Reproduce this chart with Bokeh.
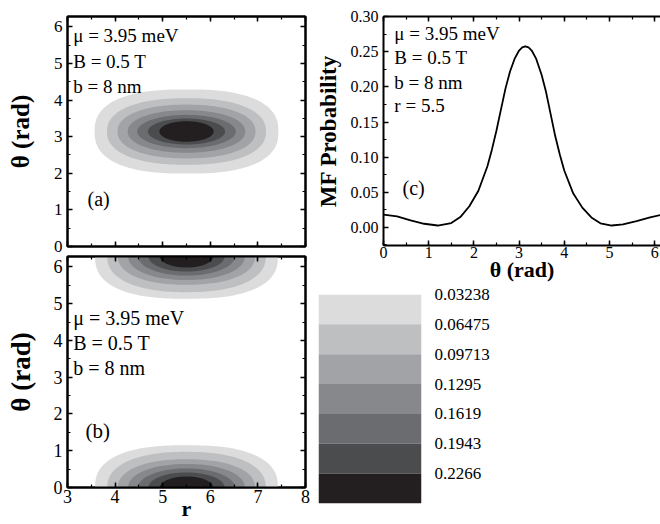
import numpy as np
from bokeh.plotting import figure
from bokeh.models import (Range1d, LinearAxis, Label, FixedTicker, SingleIntervalTicker,
                          NumeralTickFormatter, CustomJSTickFormatter)
from bokeh.layouts import row, column
from bokeh.embed import file_html
from bokeh.resources import INLINE

# ---------------- data ----------------
levels = [0.03238, 0.06475, 0.09713, 0.1295, 0.1619, 0.1943, 0.2266]
level_labels = ["0.03238", "0.06475", "0.09713", "0.1295", "0.1619", "0.1943", "0.2266"]
level_max = 0.2590
band_colors = ["#dcdcdd", "#bebfc1", "#a2a3a6", "#87888b", "#6b6c6f", "#4b4c4e", "#231f20"]

# panel (a): probability blob centred at r = 5.5, theta = pi
a_center_r = 5.5
a_center_theta = 3.1416
a_half_r = [1.93, 1.67, 1.45, 1.235, 1.035, 0.81, 0.57]
a_half_theta = [1.15, 0.91, 0.735, 0.58, 0.455, 0.355, 0.28]

# panel (b): blob centred at r = 5.5, theta = 0 (and 2 pi)
b_center_r = 5.5
b_center_theta = [0.0, 6.2832]
b_half_r = [1.92, 1.665, 1.44, 1.225, 1.015, 0.80, 0.56]
b_half_theta = [1.15, 0.97, 0.77, 0.64, 0.52, 0.41, 0.30]

# squareness of each contour (2 = ellipse)
contour_power = [2.5, 2.3, 2.2, 2.1, 2.0, 2.0, 2.0]

# panel (c): MF probability along theta at r = 5.5
c_theta = [0.0, 0.3, 0.6, 0.9, 1.2, 1.5, 1.7, 1.9, 2.1, 2.3, 2.4, 2.5, 2.6, 2.7,
           2.8, 2.9, 3.0, 3.07, 3.14, 3.21, 3.28, 3.38, 3.5, 3.6, 3.7, 3.8, 3.9,
           4.0, 4.2, 4.4, 4.6, 4.8, 5.05, 5.3, 5.6, 5.9, 6.13]
c_prob = [0.018, 0.0155, 0.0097, 0.0050, 0.0025, 0.0060, 0.0145, 0.030, 0.052,
          0.087, 0.111, 0.138, 0.168, 0.198, 0.222, 0.240, 0.252, 0.2565, 0.258,
          0.2565, 0.252, 0.240, 0.217, 0.192, 0.161, 0.130, 0.104, 0.081, 0.048,
          0.028, 0.014, 0.0057, 0.0025, 0.0042, 0.0088, 0.0140, 0.0175]

annot = ["\u03bc = 3.95 meV", "B = 0.5 T", "b = 8 nm"]
annot_c = annot + ["r = 5.5"]

FONT = "Liberation Serif"
TWO_PI = 2 * np.pi


def tick_style(ax, label_size, standoff):
    ax.major_tick_in = 5
    ax.major_tick_out = 0
    ax.minor_tick_in = 3
    ax.minor_tick_out = 0
    ax.major_tick_line_width = 1.5
    ax.minor_tick_line_width = 1.2
    ax.major_tick_line_color = "black"
    ax.minor_tick_line_color = "black"
    ax.axis_line_width = 2
    ax.axis_line_color = "black"
    ax.major_label_text_font = FONT
    ax.major_label_text_font_size = label_size
    ax.major_label_text_color = "black"
    ax.major_label_standoff = standoff
    ax.axis_label_text_font = FONT
    ax.axis_label_text_font_style = "bold"
    ax.axis_label_text_color = "black"


def no_labels(ax):
    tick_style(ax, "1px", 0)
    ax.formatter = CustomJSTickFormatter(code="return ''")


def mirror(p, side, ticker):
    ax = LinearAxis(ticker=ticker)
    no_labels(ax)
    p.add_layout(ax, side)


def blob(cx, cy, a, b, n, m=180):
    t = np.linspace(0, 2 * np.pi, m)
    c, s = np.cos(t), np.sin(t)
    xs = cx + a * np.sign(c) * np.abs(c) ** (2.0 / n)
    ys = cy + b * np.sign(s) * np.abs(s) ** (2.0 / n)
    return list(xs), list(ys)


def add_text(p, x, y, text, size):
    p.add_layout(Label(x=x, y=y, text=text, text_font=FONT, text_font_size=size,
                       text_color="black", text_align="left", text_baseline="middle"))


def contour_fig(height, bt, bb):
    p = figure(width=312, height=height, x_range=Range1d(3, 8), y_range=Range1d(0, TWO_PI),
               output_backend="svg", toolbar_location=None, frame_align=False,
               min_border_left=67, min_border_right=7, min_border_top=bt, min_border_bottom=bb)
    p.xgrid.visible = False
    p.ygrid.visible = False
    p.outline_line_color = "black"
    p.outline_line_width = 2
    p.outline_line_alpha = 1
    tx = SingleIntervalTicker(interval=1, num_minor_ticks=2)
    ty = SingleIntervalTicker(interval=1, num_minor_ticks=2)
    p.below[0].ticker = tx
    p.left[0].ticker = ty
    mirror(p, "above", tx)
    mirror(p, "right", ty)
    return p


# ---------------- panel (a) ----------------
pa = contour_fig(255, 16, 9)
xs, ys = [], []
for k in range(len(levels)):
    x, y = blob(a_center_r, a_center_theta, a_half_r[k], a_half_theta[k], contour_power[k])
    xs.append(x); ys.append(y)
pa.patches(xs, ys, fill_color=band_colors, line_color=None)
no_labels(pa.below[0])
ya = pa.left[0]
tick_style(ya, "17px", 5)
ya.axis_label = "\u03b8 (rad)"
ya.axis_label_text_font_size = "25px"
ya.axis_label_standoff = 17
for txt, yy in zip(annot, [5.76, 5.05, 4.37]):
    add_text(pa, 3.12, yy, txt, "19px")
add_text(pa, 3.42, 1.31, "(a)", "20px")

# ---------------- panel (b) ----------------
pb = contour_fig(269, 1, 37)
xs, ys, cols = [], [], []
for cy in b_center_theta:
    for k in range(len(levels)):
        x, y = blob(b_center_r, cy, b_half_r[k], b_half_theta[k], contour_power[k])
        xs.append(x); ys.append(y); cols.append(band_colors[k])
pb.patches(xs, ys, fill_color=cols, line_color=None)
xb = pb.below[0]
tick_style(xb, "18px", 2)
xb.axis_label = "r"
xb.axis_label_text_font_size = "22px"
xb.axis_label_standoff = -10
yb = pb.left[0]
tick_style(yb, "18px", 5)
yb.axis_label = "\u03b8 (rad)"
yb.axis_label_text_font_size = "27px"
yb.axis_label_standoff = 15
for txt, yy in zip(annot, [4.62, 3.94, 3.24]):
    add_text(pb, 3.12, yy, txt, "20px")
add_text(pb, 3.38, 1.55, "(b)", "21px")

# ---------------- panel (c) ----------------
pc = figure(width=348, height=284, x_range=Range1d(0, 6.13), y_range=Range1d(-0.026, 0.3005),
            output_backend="svg", toolbar_location=None, frame_align=False,
            min_border_left=69, min_border_right=0, min_border_top=16, min_border_bottom=39)
pc.xgrid.visible = False
pc.ygrid.visible = False
pc.outline_line_color = None
tcx = SingleIntervalTicker(interval=1, num_minor_ticks=2)
tcy = SingleIntervalTicker(interval=0.05, num_minor_ticks=2)
xc = pc.below[0]
yc = pc.left[0]
xc.ticker = tcx
yc.ticker = tcy
yc.formatter = NumeralTickFormatter(format="0.00")
tick_style(xc, "16px", 1)
tick_style(yc, "16px", 5)
xc.axis_label = "\u03b8 (rad)"
xc.axis_label_text_font_size = "22px"
xc.axis_label_standoff = -4
yc.axis_label = "MF Probability"
yc.axis_label_text_font_size = "23px"
yc.axis_label_standoff = 7
mirror(pc, "above", tcx)
pc.line(c_theta, c_prob, line_color="black", line_width=1.8)
for txt, yy in zip(annot_c, [0.2763, 0.242, 0.2064, 0.1736]):
    add_text(pc, 0.24, yy, txt, "19px")
add_text(pc, 0.42, 0.0553, "(c)", "20px")

# ---------------- colour scale ----------------
pcb = figure(width=348, height=240, x_range=Range1d(0, 1), y_range=Range1d(level_max, levels[0]),
             y_axis_location="right", x_axis_location=None,
             output_backend="svg", toolbar_location=None, frame_align=False,
             min_border_left=6, min_border_right=239, min_border_top=10, min_border_bottom=21)
pcb.xgrid.visible = False
pcb.ygrid.visible = False
pcb.outline_line_color = None
pcb.quad(left=0, right=1, top=levels, bottom=levels[1:] + [level_max],
         fill_color=band_colors, line_color=None)
ax = pcb.right[0]
ax.ticker = FixedTicker(ticks=levels)
ax.major_label_overrides = {lv: lab for lv, lab in zip(levels, level_labels)}
ax.axis_line_color = None
ax.major_tick_line_color = None
ax.minor_tick_line_color = None
ax.major_label_text_font = FONT
ax.major_label_text_font_size = "17px"
ax.major_label_text_color = "black"
ax.major_label_standoff = 7

layout = row(column(pa, pb), column(pc, pcb))
open("out.html", "w").write(file_html(layout, INLINE))
